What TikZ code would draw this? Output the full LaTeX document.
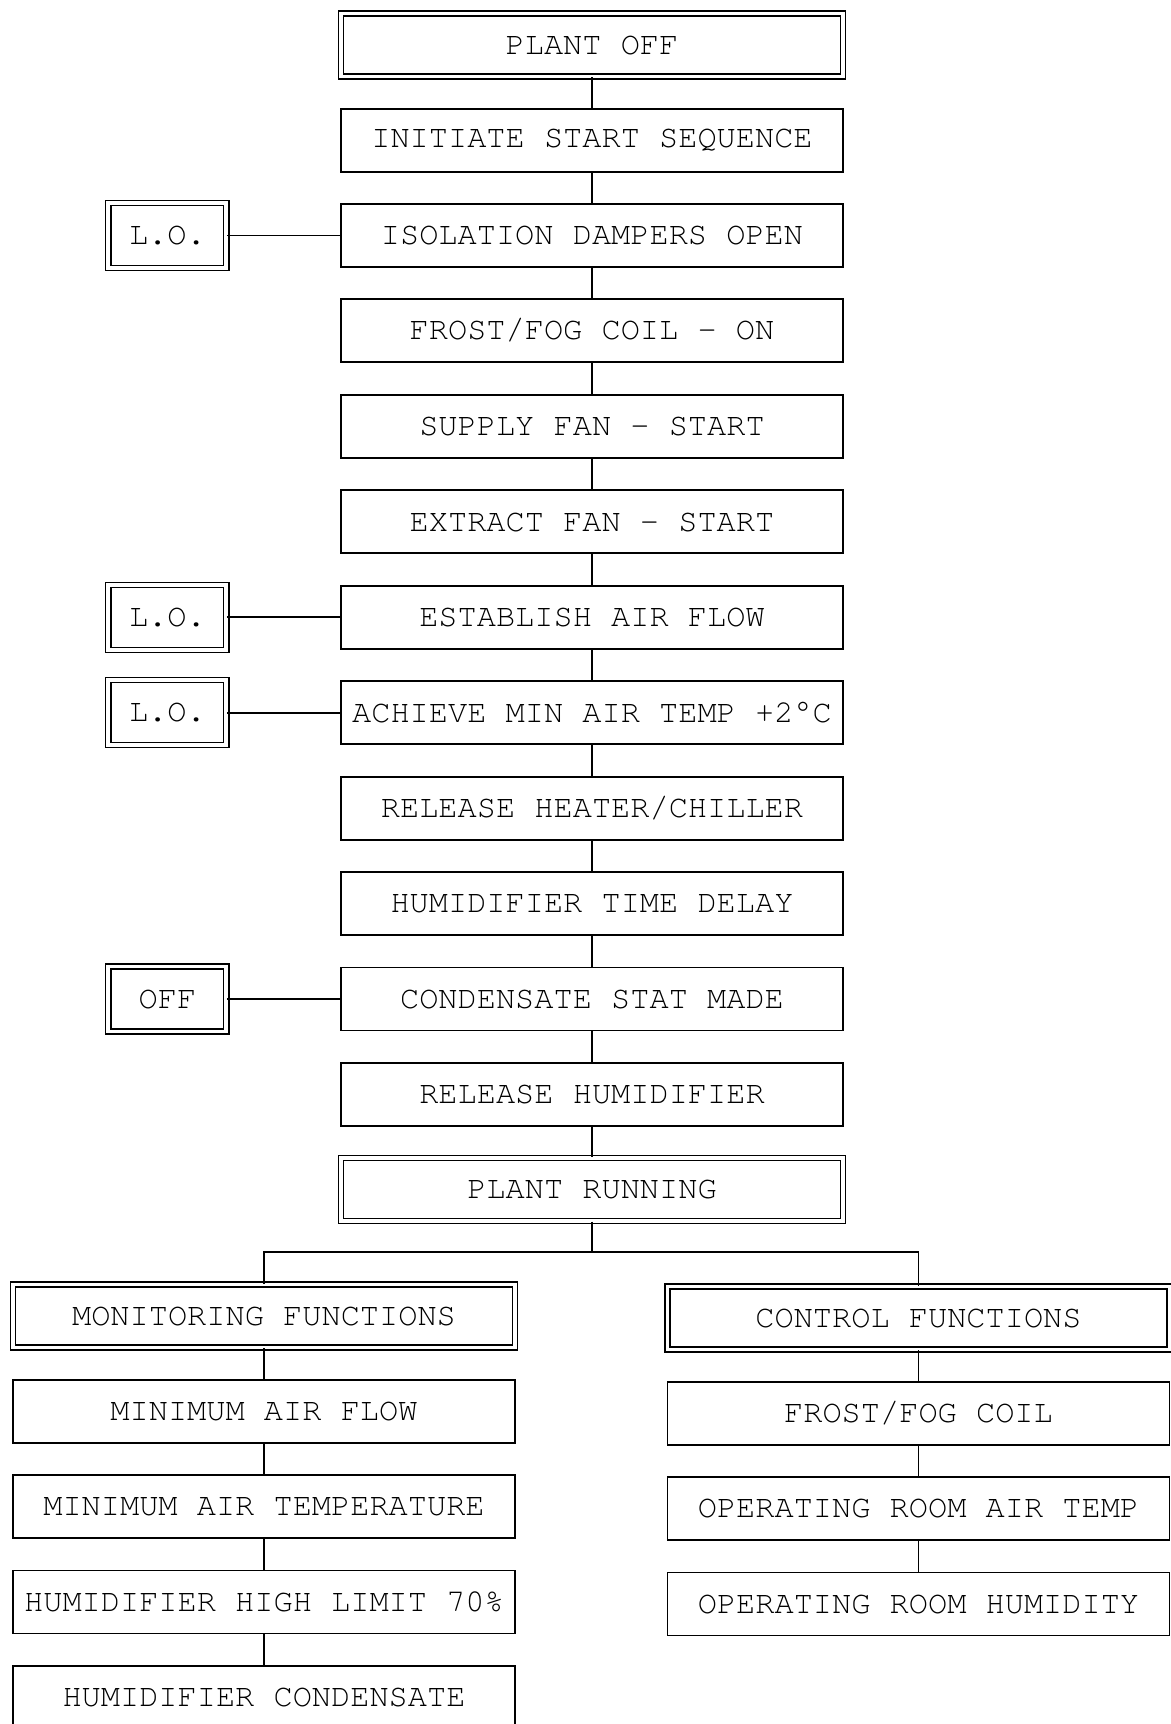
\documentclass[tikz,border=0pt]{standalone}
\usepackage[T1]{fontenc}
\usepackage{textcomp}
\usepackage{courier}
\usetikzlibrary{positioning}

\begin{document}
\begin{tikzpicture}[
    node distance=0.61cm,
    seqbox/.style={draw, rectangle, minimum width=10.04cm, minimum height=1.26cm, align=center, font=\ttfamily\fontsize{18.2}{22}\selectfont, line width=1.1pt, inner sep=2pt},
    keybox/.style={seqbox, double, line width=0.7pt, double distance=2.2pt},
    lockbox/.style={keybox, minimum width=2.36cm, minimum height=1.3cm},
    link/.style={draw, line width=1pt}
]
\useasboundingbox (0,0) rectangle (23.42,-34.48);
\clip (0,0) rectangle (23.42,-34.48);

% start-up sequence
\node[keybox] (off) at (11.84,-0.9) {PLANT OFF};
\node[seqbox, below=of off] (init) {INITIATE START SEQUENCE};
\node[seqbox, below=of init] (iso) {ISOLATION DAMPERS OPEN};
\node[seqbox, below=of iso] (frost) {FROST/FOG COIL - ON};
\node[seqbox, below=of frost] (supply) {SUPPLY FAN - START};
\node[seqbox, below=of supply] (extract) {EXTRACT FAN - START};
\node[seqbox, below=of extract] (flow) {ESTABLISH AIR FLOW};
\node[seqbox, below=of flow] (mintemp) {ACHIEVE MIN AIR TEMP +2\textdegree C};
\node[seqbox, below=of mintemp] (heater) {RELEASE HEATER/CHILLER};
\node[seqbox, below=of heater] (delay) {HUMIDIFIER TIME DELAY};
\node[seqbox, below=of delay] (cstat) {CONDENSATE STAT MADE};
\node[seqbox, below=of cstat] (humid) {RELEASE HUMIDIFIER};
\node[keybox, below=of humid] (run) {PLANT RUNNING};

\draw[link] (off) -- (init);
\draw[link] (init) -- (iso);
\draw[link] (iso) -- (frost);
\draw[link] (frost) -- (supply);
\draw[link] (supply) -- (extract);
\draw[link] (extract) -- (flow);
\draw[link] (flow) -- (mintemp);
\draw[link] (mintemp) -- (heater);
\draw[link] (heater) -- (delay);
\draw[link] (delay) -- (cstat);
\draw[link] (cstat) -- (humid);
\draw[link] (humid) -- (run);

% lock-outs
\node[lockbox, left=2.26cm of iso] (lo1) {L.O.};
\node[lockbox, left=2.26cm of flow] (lo2) {L.O.};
\node[lockbox, left=2.26cm of mintemp] (lo3) {L.O.};
\node[lockbox, left=2.26cm of cstat] (lo4) {OFF};
\draw[link] (lo1) -- (iso);
\draw[link] (lo2) -- (flow);
\draw[link] (lo3) -- (mintemp);
\draw[link] (lo4) -- (cstat);

% running functions
\node[keybox] (monitor) at (5.28,-26.32) {MONITORING FUNCTIONS};
\node[seqbox, below=of monitor] (mflow) {MINIMUM AIR FLOW};
\node[seqbox, below=of mflow] (mtemp) {MINIMUM AIR TEMPERATURE};
\node[seqbox, below=of mtemp] (mhigh) {HUMIDIFIER HIGH LIMIT 70\%};
\node[seqbox, below=of mhigh] (mcond) {HUMIDIFIER CONDENSATE};

\node[keybox] (control) at (18.37,-26.36) {CONTROL FUNCTIONS};
\node[seqbox, below=of control] (ccoil) {FROST/FOG COIL};
\node[seqbox, below=of ccoil] (ctemp) {OPERATING ROOM AIR TEMP};
\node[seqbox, below=of ctemp] (chum) {OPERATING ROOM HUMIDITY};

\draw[link] (run.south) -- ++(0,-0.61) coordinate (split);
\draw[link] (monitor.north) |- (split) -| (control.north);
\draw[link] (monitor) -- (mflow);
\draw[link] (mflow) -- (mtemp);
\draw[link] (mtemp) -- (mhigh);
\draw[link] (mhigh) -- (mcond);
\draw[link] (control) -- (ccoil);
\draw[link] (ccoil) -- (ctemp);
\draw[link] (ctemp) -- (chum);

\end{tikzpicture}
\end{document}
